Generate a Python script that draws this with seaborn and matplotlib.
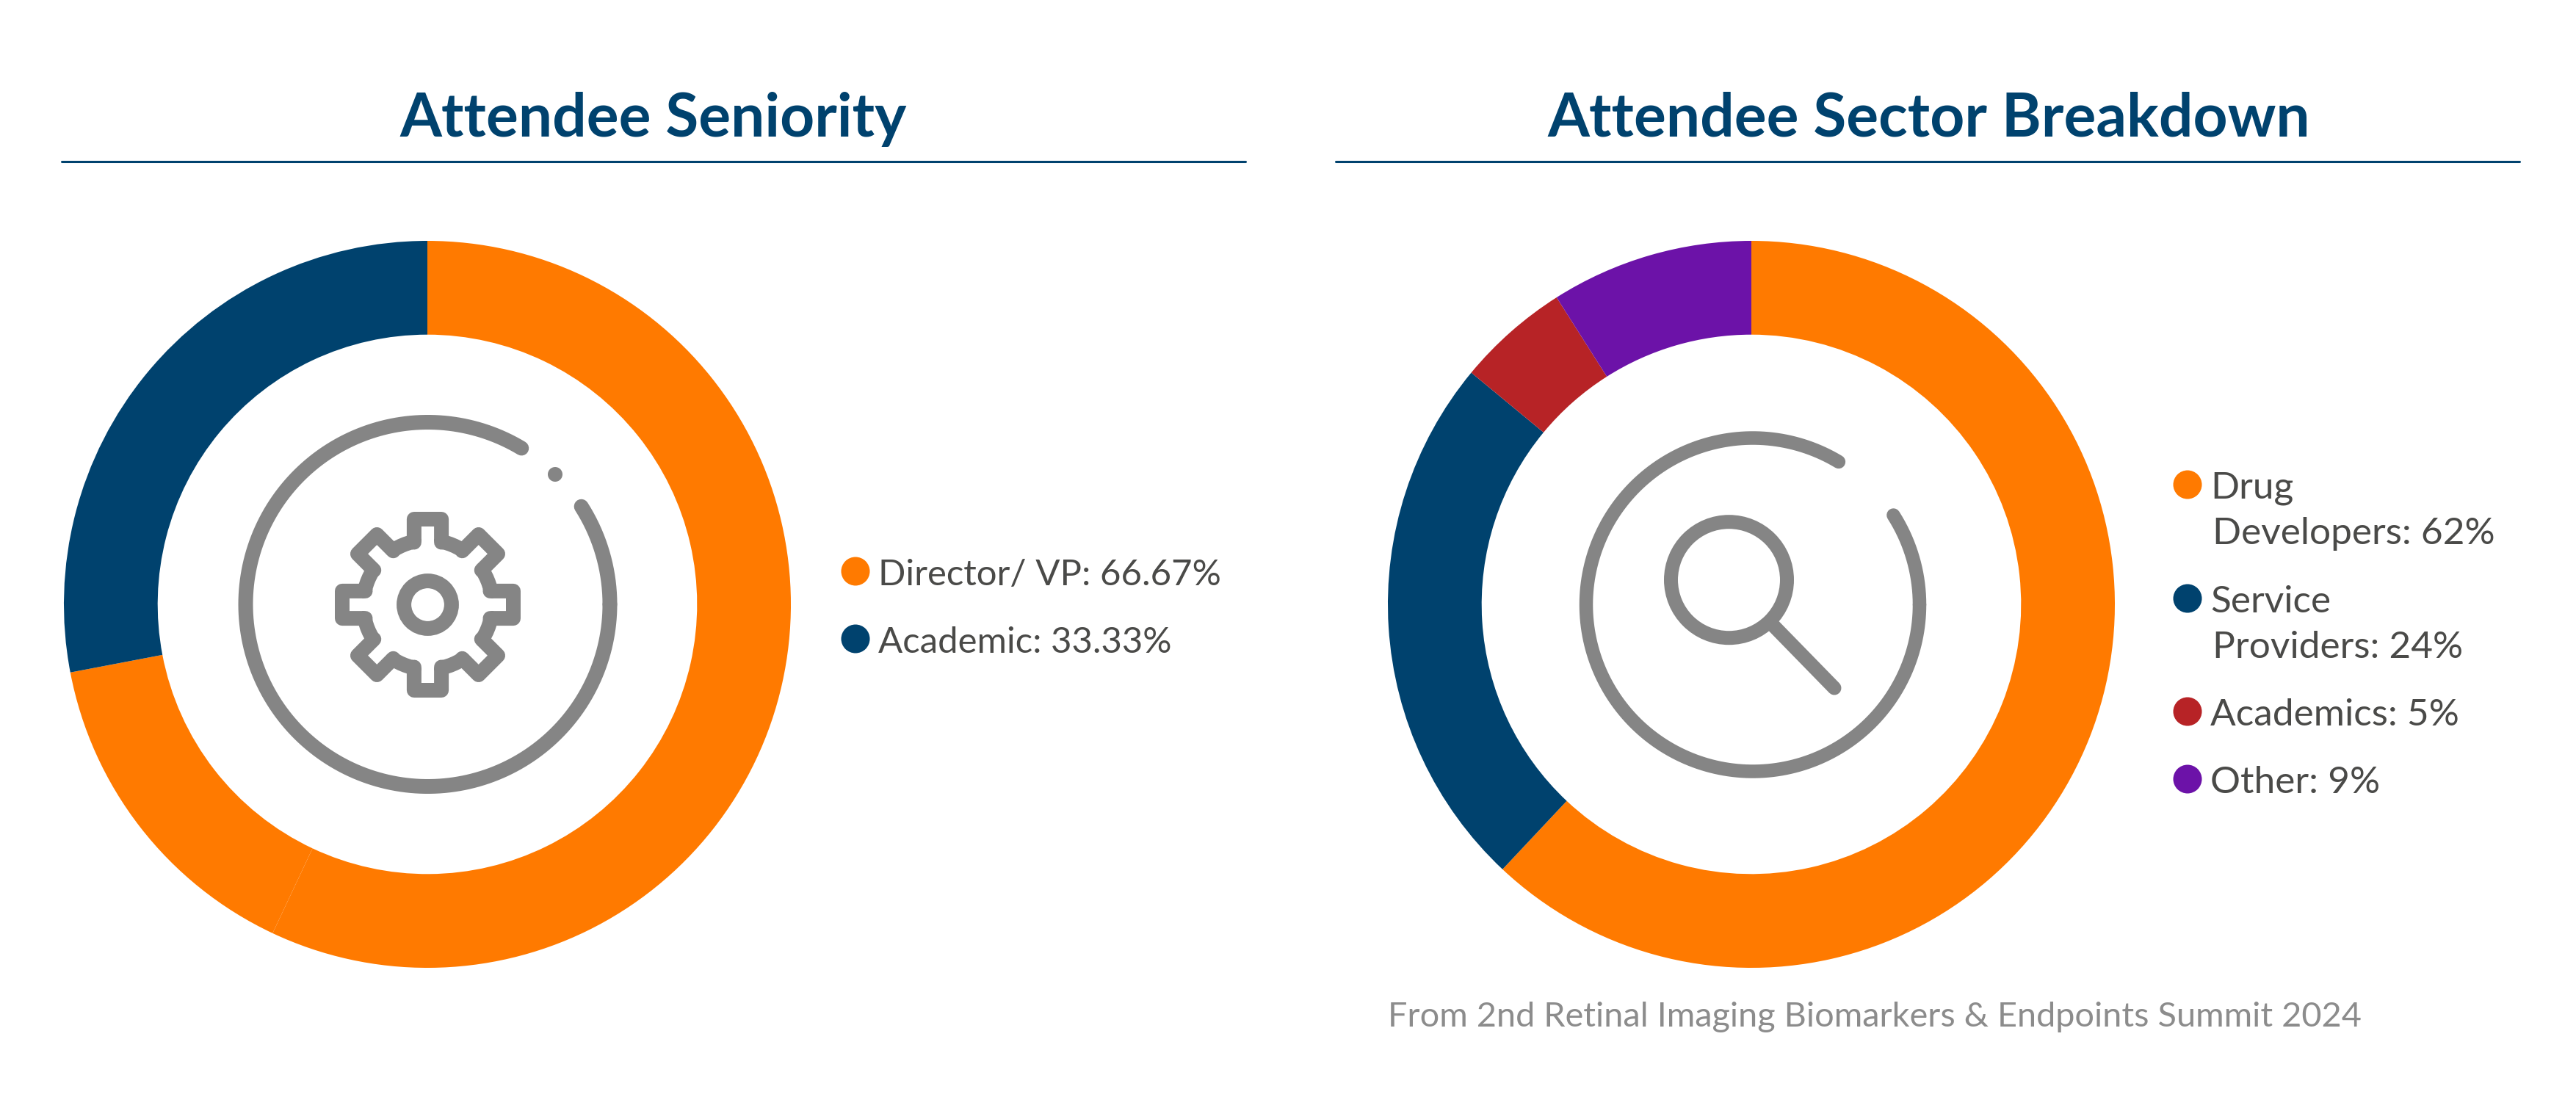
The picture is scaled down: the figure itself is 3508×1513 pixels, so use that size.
import numpy as np
import seaborn as sns
import matplotlib
matplotlib.use('Agg')
import matplotlib.pyplot as plt
from matplotlib.patches import Circle, Polygon

# data
sen_labels = ['Director/ VP: 66.67%', 'Academic: 33.33%']
sen_values = [57, 15, 28]
sen_colors = ['#FF7A00', '#FF7A00', '#00426E']

sec_labels = ['Drug\nDevelopers: 62%', 'Service\nProviders: 24%', 'Academics: 5%', 'Other: 9%']
sec_values = [62, 24, 5, 9]
sec_colors = ['#FF7A00', '#00426E', '#B72326', '#6C12A8']

titles = ['Attendee Seniority', 'Attendee Sector Breakdown']
source = 'From 2nd Retinal Imaging Biomarkers & Endpoints Summit 2024'

W, H = 3508, 1513
NAVY = '#00426E'
GREY = '#858585'
TXT = '#4A4A48'
PT = 72 / 200  # one pixel in points

sns.set_theme(style='white')
plt.rcParams['font.family'] = ['Lato', 'DejaVu Sans']

fig = plt.figure(figsize=(W / 200, H / 200), dpi=200, facecolor='white')

# overlay in pixel coordinates for text, rules and icons
bg = fig.add_axes([0, 0, 1, 1])
bg.set_xlim(0, W)
bg.set_ylim(H, 0)
bg.axis('off')


def donut(cx, cy, r, values, colors):
    ax = fig.add_axes([(cx - r) / W, 1 - (cy + r) / H, 2 * r / W, 2 * r / H])
    ax.pie(values, colors=colors, startangle=90, counterclock=False, radius=1,
           wedgeprops=dict(width=0.258, linewidth=0))
    ax.set_xlim(-1, 1)
    ax.set_ylim(-1, 1)


donut(582, 823, 495, sen_values, sen_colors)
donut(2385, 823, 495, sec_values, sec_colors)

# titles and rules
bg.text(890, 162, titles[0], ha='center', va='center', fontsize=29.5, fontweight='bold', color=NAVY)
bg.text(2627, 162, titles[1], ha='center', va='center', fontsize=29.5, fontweight='bold', color=NAVY)
bg.plot([84, 1696], [220, 220], color=NAVY, lw=1.1)
bg.plot([1819, 3431], [220, 220], color=NAVY, lw=1.1)


def legend(x, ys, labels, colors, size, dx):
    for y, lab, c in zip(ys, labels, colors):
        bg.add_patch(Circle((x, y), 19.5, color=c, lw=0))
        for i, line in enumerate(lab.split('\n')):
            # wrapped lines sit a little further in, as in the original
            bg.text(x + dx + 3 * i, y + 19 + 62 * i, line, ha='left', va='baseline',
                    fontsize=size, color=TXT)


legend(1165, [778, 870], sen_labels, [sen_colors[0], sen_colors[2]], 17.7, 31)
legend(2979, [660, 815, 969, 1061], sec_labels, sec_colors, 18.5, 31)

bg.text(1890, 1398, source, ha='left', va='baseline', fontsize=16.9, color='#8C8C8C')


def ring(cx, cy, r, t1, t2, lw):
    t = np.radians(np.linspace(t1, t2, 200))
    bg.plot(cx + r * np.cos(t), cy - r * np.sin(t), color=GREY, lw=lw * PT,
            solid_capstyle='round', solid_joinstyle='round')


# gear icon
ring(582.5, 823, 248, 59, 360, 20)
ring(582.5, 823, 248, 0, 32.5, 20)
bg.add_patch(Circle((756, 646), 10, color=GREY, lw=0))
bg.add_patch(Circle((582.5, 823.5), 32.4, fill=False, ec=GREY, lw=20 * PT))

pts = []
for k in range(8):
    a = 90 - 45 * k
    rad = np.radians(a)
    u = np.array([np.cos(rad), -np.sin(rad)])
    v = np.array([-u[1], u[0]])
    for dist, half in [(85, -18.6), (116.5, -18.6), (116.5, 18.6), (85, 18.6)]:
        pts.append(u * dist + v * half)
    # body of the wheel between two teeth
    for t in np.linspace(a - 12.3, a - 32.7, 6):
        pts.append(np.array([np.cos(np.radians(t)), -np.sin(np.radians(t))]) * 88)
pts = np.array(pts) + [582.5, 823.5]
bg.add_patch(Polygon(pts, closed=True, fill=False, ec=GREY, lw=20 * PT, joinstyle='round'))

# magnifier icon
ring(2387, 823.5, 227, 59, 360, 18.5)
ring(2387, 823.5, 227, 0, 32.5, 18.5)
bg.add_patch(Circle((2354.5, 789.7), 79, fill=False, ec=GREY, lw=19 * PT))
bg.plot([2416, 2498], [853, 937], color=GREY, lw=19 * PT, solid_capstyle='round')

fig.savefig('out.png', dpi=200, facecolor='white')
